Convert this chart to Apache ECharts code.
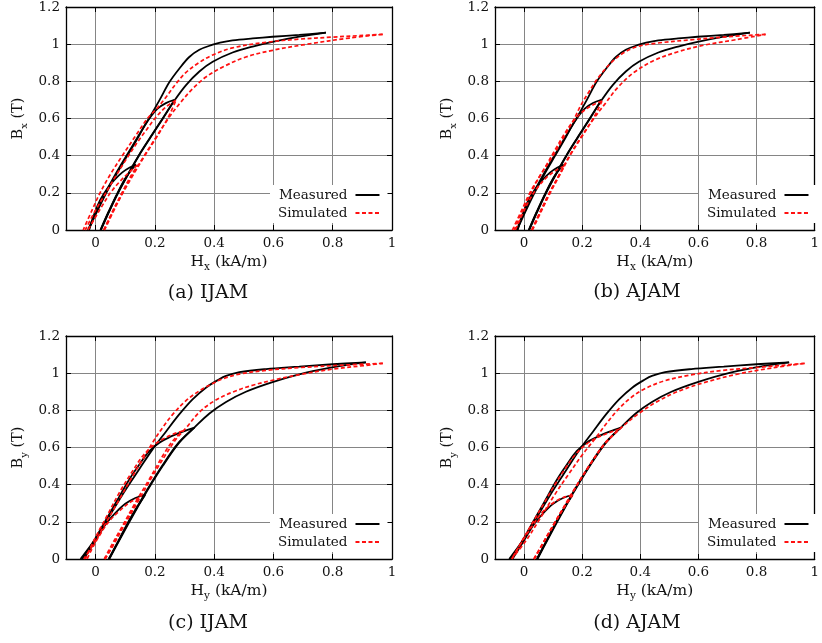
<!DOCTYPE html>
<html><head><meta charset="utf-8">
<script src="https://cdn.jsdelivr.net/npm/echarts@6/dist/echarts.min.js"></script>
<style>html,body{margin:0;padding:0;background:#fff}#c{width:822px;height:643px}</style>
</head><body><div id="c"></div>
<script>
// ---- tick values ----
const xTicks = [0, 0.2, 0.4, 0.6, 0.8, 1];
const yTicks = [0, 0.2, 0.4, 0.6, 0.8, 1, 1.2];
const captions = ['(a) IJAM', '(b) AJAM', '(c) IJAM', '(d) AJAM'];
const seriesNames = ['Measured', 'Simulated'];

// ---- Measured, x direction (panels a, b) : [H (kA/m), B (T)] ----
const mX_majUp = [[0.018,0],[0.046,0.1],[0.076,0.2],[0.11,0.3],[0.146,0.4],[0.186,0.5],[0.227,0.6],[0.266,0.697],[0.305,0.78],[0.35,0.853],[0.395,0.905],[0.462,0.955],[0.53,0.987],[0.597,1.012],[0.687,1.04],[0.777,1.062]];
const mX_majDown = [[0.777,1.062],[0.687,1.05],[0.597,1.04],[0.53,1.031],[0.462,1.02],[0.42,1.008],[0.395,0.997],[0.35,0.97],[0.316,0.931],[0.282,0.868],[0.249,0.796],[0.216,0.7],[0.18,0.6],[0.142,0.5],[0.104,0.4],[0.067,0.3],[0.033,0.2],[0.003,0.1],[-0.026,0]];
const mX_midUp = [[0.017,0],[0.045,0.1],[0.075,0.2],[0.109,0.3],[0.145,0.4],[0.185,0.5],[0.226,0.6],[0.266,0.70]];
const mX_midDown = [[0.266,0.70],[0.237,0.683],[0.209,0.653],[0.187,0.612],[0.164,0.558],[0.144,0.5],[0.107,0.4],[0.07,0.3],[0.036,0.2],[0.005,0.1],[-0.024,0]];
const mX_minUp = [[0.016,0],[0.044,0.1],[0.074,0.2],[0.105,0.29],[0.136,0.352]];
const mX_minDown = [[0.136,0.352],[0.115,0.336],[0.09,0.31],[0.065,0.272],[0.04,0.225],[0.015,0.16],[-0.005,0.085],[-0.022,0]];

// ---- Measured, y direction (panels c, d) ----
const mY_majUp = [[0.046,0],[0.08,0.1],[0.114,0.2],[0.142,0.28],[0.17,0.357],[0.226,0.5],[0.282,0.626],[0.333,0.707],[0.384,0.783],[0.44,0.845],[0.507,0.9],[0.597,0.952],[0.71,1.003],[0.822,1.038],[0.912,1.058]];
const mY_majDown = [[0.912,1.058],[0.8,1.048],[0.687,1.035],[0.575,1.022],[0.485,1.005],[0.44,0.985],[0.417,0.967],[0.372,0.922],[0.327,0.859],[0.282,0.778],[0.237,0.685],[0.192,0.59],[0.147,0.483],[0.1,0.37],[0.046,0.23],[0,0.11],[-0.051,0]];
const mY_midUp = [[0.044,0],[0.078,0.1],[0.112,0.2],[0.14,0.28],[0.168,0.357],[0.224,0.5],[0.28,0.626],[0.333,0.707]];
const mY_midDown = [[0.333,0.707],[0.294,0.685],[0.249,0.655],[0.215,0.626],[0.181,0.58],[0.147,0.507],[0.114,0.429],[0.069,0.305],[0.024,0.18],[-0.016,0.07],[-0.046,0]];
const mY_minUp = [[0.045,0],[0.078,0.1],[0.11,0.2],[0.138,0.275],[0.167,0.345]];
const mY_minDown = [[0.167,0.345],[0.134,0.328],[0.1,0.297],[0.067,0.248],[0.033,0.185],[0,0.1],[-0.02,0.05],[-0.04,0]];

// ---- Simulated (a) IJAM, x ----
const sA_majUp = [[0.03,0],[0.06,0.1],[0.092,0.2],[0.128,0.3],[0.166,0.4],[0.206,0.5],[0.245,0.6],[0.288,0.689],[0.327,0.76],[0.372,0.823],[0.429,0.877],[0.507,0.931],[0.597,0.967],[0.71,0.999],[0.856,1.033],[0.969,1.053]];
const sA_majDown = [[0.969,1.053],[0.89,1.046],[0.8,1.038],[0.687,1.027],[0.575,1.01],[0.462,0.98],[0.395,0.942],[0.35,0.902],[0.305,0.848],[0.271,0.787],[0.24,0.72],[0.21,0.66],[0.175,0.6],[0.132,0.5],[0.09,0.4],[0.05,0.3],[0.015,0.2],[-0.014,0.1],[-0.042,0]];
const sA_midUp = [[0.028,0],[0.058,0.1],[0.09,0.2],[0.126,0.3],[0.164,0.4],[0.204,0.5],[0.243,0.6],[0.271,0.698]];
const sA_midDown = [[0.271,0.698],[0.237,0.662],[0.204,0.608],[0.17,0.536],[0.14,0.47],[0.103,0.38],[0.064,0.28],[0.027,0.18],[-0.006,0.09],[-0.035,0]];
const sA_minUp = [[0.027,0],[0.057,0.1],[0.089,0.2],[0.115,0.28],[0.142,0.35]];
const sA_minDown = [[0.142,0.35],[0.114,0.312],[0.08,0.258],[0.05,0.2],[0.022,0.13],[-0.004,0.06],[-0.026,0]];

// ---- Simulated (b) AJAM, x ----
const sB_majUp = [[0.029,0],[0.059,0.1],[0.09,0.2],[0.124,0.3],[0.158,0.4],[0.198,0.5],[0.24,0.6],[0.279,0.68],[0.324,0.77],[0.38,0.85],[0.448,0.913],[0.527,0.958],[0.617,0.994],[0.729,1.024],[0.831,1.053]];
const sB_majDown = [[0.831,1.053],[0.7,1.04],[0.572,1.023],[0.459,1.006],[0.392,0.988],[0.347,0.958],[0.302,0.904],[0.257,0.823],[0.223,0.743],[0.195,0.67],[0.173,0.6],[0.137,0.5],[0.1,0.4],[0.058,0.3],[0.02,0.2],[-0.01,0.1],[-0.04,0]];
const sB_midUp = [[0.027,0],[0.057,0.1],[0.088,0.2],[0.122,0.3],[0.156,0.4],[0.196,0.5],[0.238,0.6],[0.268,0.694]];
const sB_midDown = [[0.268,0.694],[0.234,0.671],[0.2,0.635],[0.167,0.581],[0.14,0.52],[0.11,0.44],[0.077,0.35],[0.04,0.25],[0.008,0.15],[-0.015,0.07],[-0.034,0]];
const sB_minUp = [[0.026,0],[0.056,0.1],[0.087,0.2],[0.112,0.27],[0.138,0.343]];
const sB_minDown = [[0.138,0.343],[0.11,0.321],[0.077,0.282],[0.043,0.222],[0.015,0.151],[-0.01,0.07],[-0.03,0]];

// ---- Simulated (c) IJAM, y ----
const sC_majUp = [[0.032,0],[0.063,0.083],[0.091,0.165],[0.147,0.321],[0.192,0.447],[0.237,0.563],[0.271,0.644],[0.305,0.705],[0.35,0.79],[0.4,0.85],[0.462,0.898],[0.53,0.935],[0.597,0.962],[0.687,0.992],[0.8,1.022],[0.912,1.042],[0.969,1.053]];
const sC_majDown = [[0.969,1.053],[0.856,1.045],[0.687,1.03],[0.575,1.015],[0.485,0.995],[0.43,0.97],[0.395,0.945],[0.35,0.905],[0.305,0.852],[0.26,0.778],[0.226,0.707],[0.192,0.626],[0.159,0.536],[0.125,0.447],[0.08,0.321],[0.035,0.196],[-0.004,0.088],[-0.04,0]];
const sC_midUp = [[0.029,0],[0.057,0.083],[0.086,0.165],[0.136,0.309],[0.181,0.429],[0.226,0.554],[0.26,0.635],[0.294,0.689]];
const sC_midDown = [[0.294,0.689],[0.26,0.671],[0.226,0.644],[0.192,0.608],[0.159,0.554],[0.125,0.474],[0.08,0.357],[0.035,0.222],[-0.004,0.106],[-0.035,0]];
const sC_minUp = [[0.031,0],[0.062,0.087],[0.091,0.174],[0.12,0.255],[0.147,0.33]];
const sC_minDown = [[0.147,0.33],[0.114,0.303],[0.08,0.258],[0.046,0.204],[0.012,0.124],[-0.016,0.043],[-0.029,0]];

// ---- Simulated (d) AJAM, y ----
const sD_majUp = [[0.034,0],[0.071,0.1],[0.108,0.2],[0.166,0.355],[0.223,0.498],[0.28,0.624],[0.328,0.698],[0.392,0.78],[0.459,0.848],[0.527,0.9],[0.617,0.948],[0.729,0.993],[0.853,1.028],[0.966,1.053]];
const sD_majDown = [[0.966,1.053],[0.797,1.03],[0.684,1.015],[0.572,0.99],[0.482,0.958],[0.414,0.915],[0.369,0.87],[0.324,0.805],[0.284,0.73],[0.243,0.645],[0.2,0.56],[0.155,0.46],[0.105,0.345],[0.052,0.21],[0.005,0.095],[-0.043,0]];
const sD_midUp = [[0.034,0],[0.07,0.1],[0.107,0.2],[0.165,0.355],[0.222,0.498],[0.278,0.622],[0.328,0.698]];
const sD_midDown = [[0.328,0.698],[0.29,0.678],[0.245,0.648],[0.212,0.615],[0.178,0.565],[0.144,0.492],[0.11,0.41],[0.065,0.29],[0.02,0.17],[-0.019,0.065],[-0.042,0]];
const sD_minUp = [[0.035,0],[0.071,0.1],[0.107,0.2],[0.137,0.275],[0.167,0.343]];
const sD_minDown = [[0.167,0.343],[0.133,0.33],[0.099,0.3],[0.065,0.255],[0.032,0.187],[-0.002,0.106],[-0.03,0.034],[-0.042,0]];

// ---- assemble ----
const measX = [mX_majUp, mX_majDown, mX_midUp, mX_midDown, mX_minUp, mX_minDown];
const measY = [mY_majUp, mY_majDown, mY_midUp, mY_midDown, mY_minUp, mY_minDown];
const simA = [sA_majUp, sA_majDown, sA_midUp, sA_midDown, sA_minUp, sA_minDown];
const simB = [sB_majUp, sB_majDown, sB_midUp, sB_midDown, sB_minUp, sB_minDown];
const simC = [sC_majUp, sC_majDown, sC_midUp, sC_midDown, sC_minUp, sC_minDown];
const simD = [sD_majUp, sD_majDown, sD_midUp, sD_midDown, sD_minUp, sD_minDown];

const FONT = 'DejaVu Serif';
const panels = [
  {left:66,  top:7,   sub:'x', meas:measX, sim:simA, cx:208, cy:293},
  {left:495, top:7,   sub:'x', meas:measX, sim:simB, cx:637, cy:292},
  {left:66,  top:336, sub:'y', meas:measY, sim:simC, cx:208, cy:623},
  {left:495, top:336, sub:'y', meas:measY, sim:simD, cx:637, cy:623}
];
const W = 326, H = 223;

const richX = {
  m: {fontFamily: FONT, fontSize: 15.5, color: '#111', lineHeight: 19, verticalAlign: 'top'},
  s: {fontFamily: FONT, fontSize: 10.5, color: '#111', lineHeight: 7, verticalAlign: 'bottom'}
};
const richY = {
  m: {fontFamily: FONT, fontSize: 14.5, color: '#111', lineHeight: 18, verticalAlign: 'top'},
  s: {fontFamily: FONT, fontSize: 10, color: '#111', lineHeight: 7, verticalAlign: 'bottom'}
};
const fmt = v => String(Math.round(v * 10) / 10);

const grid = [], xAxis = [], yAxis = [], series = [], legend = [], graphic = [];
panels.forEach((p, i) => {
  grid.push({left: p.left, top: p.top, width: W, height: H, containLabel: false});
  const tickStyle = {show: true, inside: true, length: 5, lineStyle: {color: '#000', width: 1}};
  xAxis.push({
    gridIndex: i, type: 'value', min: -0.1, max: 1, position: 'bottom',
    axisLine: {show: true, onZero: false, lineStyle: {color: '#000', width: 1.3}},
    axisTick: Object.assign({customValues: xTicks}, tickStyle),
    axisLabel: {customValues: xTicks, formatter: fmt, margin: 6, fontFamily: FONT, fontSize: 13.5, color: '#111'},
    splitLine: {show: true, lineStyle: {color: '#858585', width: 1}},
    name: '{m|H}{s|' + p.sub + '}{m| (kA/m)}', nameLocation: 'middle', nameGap: 24,
    nameTextStyle: {rich: richX}
  });
  xAxis.push({
    gridIndex: i, type: 'value', min: -0.1, max: 1, position: 'top',
    axisLine: {show: true, onZero: false, lineStyle: {color: '#000', width: 1.3}},
    axisTick: Object.assign({customValues: xTicks}, tickStyle),
    axisLabel: {show: false}, splitLine: {show: false}
  });
  yAxis.push({
    gridIndex: i, type: 'value', min: 0, max: 1.2, interval: 0.2, position: 'left',
    axisLine: {show: true, onZero: false, lineStyle: {color: '#000', width: 1.3}},
    axisTick: tickStyle,
    axisLabel: {formatter: fmt, margin: 6, fontFamily: FONT, fontSize: 13.5, color: '#111'},
    splitLine: {show: true, lineStyle: {color: '#858585', width: 1}},
    name: '{m|B}{s|' + p.sub + '}{m| (T)}', nameLocation: 'middle', nameGap: 37, nameRotate: 90,
    nameTextStyle: {rich: richY}
  });
  yAxis.push({
    gridIndex: i, type: 'value', min: 0, max: 1.2, interval: 0.2, position: 'right',
    axisLine: {show: true, onZero: false, lineStyle: {color: '#000', width: 1.3}},
    axisTick: tickStyle, axisLabel: {show: false}, splitLine: {show: false}
  });
  p.meas.forEach(d => series.push({
    type: 'line', name: seriesNames[0], xAxisIndex: 2 * i, yAxisIndex: 2 * i, data: d,
    symbol: 'none', smooth: 0.35, z: 2, silent: true,
    lineStyle: {color: '#000', width: 1.8}, itemStyle: {color: '#000'}
  }));
  p.sim.forEach(d => series.push({
    type: 'line', name: seriesNames[1], xAxisIndex: 2 * i, yAxisIndex: 2 * i, data: d,
    symbol: 'none', smooth: 0.35, z: 3, silent: true,
    lineStyle: {color: '#ff1010', width: 1.7, type: [4, 2.5]}, itemStyle: {color: '#ff1010'}
  }));
  legend.push({
    data: seriesNames, left: p.left + 204, top: p.top + 178, orient: 'vertical', align: 'right',
    backgroundColor: '#fff', padding: [3, 7, 3, 8], itemGap: 4, itemWidth: 24, itemHeight: 14,
    itemStyle: {opacity: 0},
    textStyle: {fontFamily: FONT, fontSize: 13.5, color: '#111', padding: [0, 3, 0, 0]},
    selectedMode: false, z: 10
  });
  graphic.push({
    type: 'text', x: p.cx, y: p.cy, z: 10,
    style: {text: captions[i], x: 0, y: 0, textAlign: 'center', textVerticalAlign: 'middle',
            font: '19px "DejaVu Serif"', fill: '#111'}
  });
});

const chart = echarts.init(document.getElementById('c'), null, {renderer: 'canvas'});
chart.setOption({animation: false, backgroundColor: '#fff', grid, xAxis, yAxis, series, legend, graphic});
</script></body></html>
